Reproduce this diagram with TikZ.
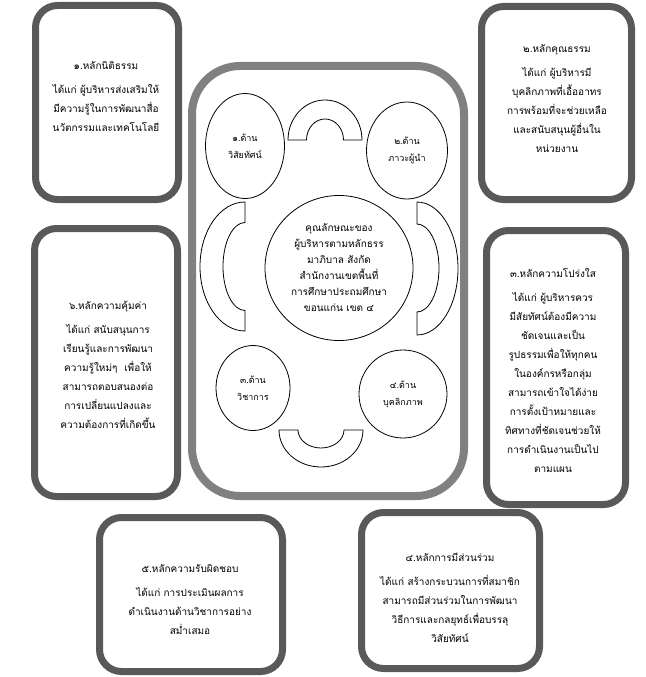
\documentclass[tikz,border=0pt]{standalone}
\usepackage{fontspec}
\setmainfont[Script=Thai]{Loma}
\usetikzlibrary{shapes.geometric}
\definecolor{framegray}{HTML}{595959}
\definecolor{hubgray}{HTML}{808080}

\begin{document}
\begin{tikzpicture}[x=1pt,y=1pt,
    frame/.style={draw=framegray, line width=7pt, rounded corners=22pt, inner sep=0pt},
    hub/.style={draw=hubgray, line width=8pt, rounded corners=48pt, inner sep=0pt},
    txt/.style={align=center, inner sep=0pt, font=\fontsize{10}{19}\selectfont},
    side/.style={draw, ellipse, line width=0.8pt, inner sep=0pt, align=center, font=\fontsize{9}{17}\selectfont},
    arch/.style={draw, line width=0.8pt}]
    \useasboundingbox (0,0) rectangle (645,-677);

    \node[hub, minimum width=272pt, minimum height=430pt] (hub) at (328,-281) {};

    \node[frame, minimum width=143pt, minimum height=194pt] (f1) at (107,-102.5) {};
    \node[frame, minimum width=150pt, minimum height=193pt] (f2) at (556.5,-103) {};
    \node[frame, minimum width=139pt, minimum height=274pt] (f3) at (556,-367.5) {};
    \node[frame, minimum width=178pt, minimum height=156pt] (f4) at (450.5,-590.5) {};
    \node[frame, minimum width=183pt, minimum height=154pt] (f5) at (191,-594.5) {};
    \node[frame, minimum width=143pt, minimum height=268pt] (f6) at (106,-362.5) {};

    \node[txt] (t1) at (106,-97) {๑.หลักนิติธรรม\\[5pt]ได้แก่ ผู้บริหารส่งเสริมให้\\มีความรู้ในการพัฒนาสื่อ\\นวัตกรรมและเทคโนโลยี};
    \node[txt] (t2) at (557,-98.5) {๒.หลักคุณธรรม\\[5pt]ได้แก่ ผู้บริหารมี\\บุคลิกภาพที่เอื้ออาทร\\การพร้อมที่จะช่วยเหลือ\\และสนับสนุนผู้อื่นใน\\หน่วยงาน};
    \node[txt] (t3) at (553,-371) {๓.หลักความโปร่งใส\\[5pt]ได้แก่ ผู้บริหารควร\\มีสัยทัศน์ต้องมีความ\\ชัดเจนและเป็น\\รูปธรรมเพื่อให้ทุกคน\\ในองค์กรหรือกลุ่ม\\สามารถเข้าใจได้ง่าย\\การตั้งเป้าหมายและ\\ทิศทางที่ชัดเจนช่วยให้\\การดำเนินงานเป็นไป\\ตามแผน};
    \node[txt] (t4) at (450,-598) {๔.หลักการมีส่วนร่วม\\[5pt]ได้แก่ สร้างกระบวนการที่สมาชิก\\สามารถมีส่วนร่วมในการพัฒนา\\วิธีการและกลยุทธ์เพื่อบรรลุ\\วิสัยทัศน์};
    \node[txt] (t5) at (190,-600) {๕.หลักความรับผิดชอบ\\[5pt]ได้แก่ การประเมินผลการ\\ดำเนินงานด้านวิชาการอย่าง\\สม่ำเสมอ};
    \node[txt] (t6) at (108,-365) {๖.หลักความคุ้มค่า\\[5pt]ได้แก่ สนับสนุนการ\\เรียนรู้และการพัฒนา\\ความรู้ใหม่ๆ\ \ เพื่อให้\\สามารถตอบสนองต่อ\\การเปลี่ยนแปลงและ\\ความต้องการที่เกิดขึ้น};

    \node[side, minimum width=148pt, minimum height=145pt, font=\fontsize{10}{16}\selectfont] (core) at (339,-268)
      {คุณลักษณะของ\\ผู้บริหารตามหลักธรร\\มาภิบาล สังกัด\\สำนักงานเขตพื้นที่\\การศึกษาประถมศึกษา\\ขอนแก่น เขต ๔};
    \node[side, minimum width=79pt, minimum height=105pt] (e1) at (245,-146) {๑.ด้าน\\วิสัยทัศน์};
    \node[side, minimum width=81pt, minimum height=97pt] (e2) at (407,-150.5) {๒.ด้าน\\ภาวะผู้นำ};
    \node[side, minimum width=74pt, minimum height=85pt] (e3) at (253,-388) {๓.ด้าน\\วิชาการ};
    \node[side, minimum width=88pt, minimum height=88pt] (e4) at (403,-394) {๔.ด้าน\\บุคลิกภาพ};

    \draw[arch] (288,-140) arc[start angle=180, end angle=0, x radius=37, y radius=40]
      -- (343.5,-140) arc[start angle=0, end angle=180, x radius=18.5, y radius=21] -- cycle;
    \draw[arch] (279,-430) arc[start angle=180, end angle=360, x radius=42, y radius=37]
      -- (344,-430) arc[start angle=0, end angle=-180, x radius=23, y radius=18] -- cycle;
    \draw[arch] (245,-202) arc[start angle=90, end angle=270, x radius=45, y radius=64.5]
      -- (245,-310.5) arc[start angle=270, end angle=90, x radius=22, y radius=44] -- cycle;
    \draw[arch] (417,-202) arc[start angle=90, end angle=-90, x radius=41, y radius=66.5]
      -- (417,-312) arc[start angle=-90, end angle=90, x radius=22, y radius=44] -- cycle;
\end{tikzpicture}
\end{document}
